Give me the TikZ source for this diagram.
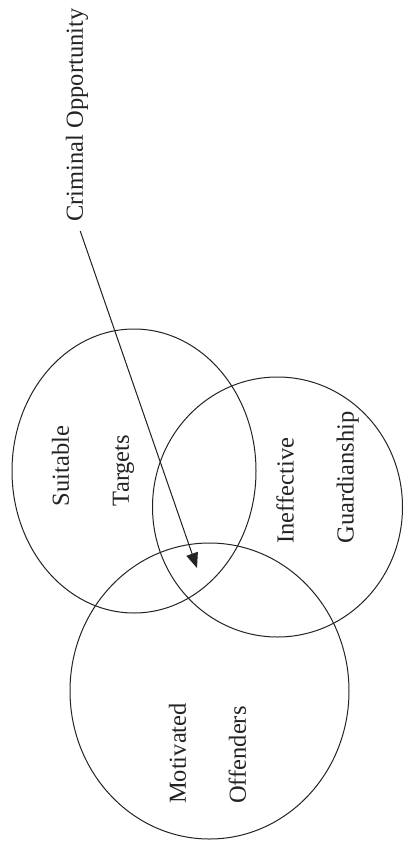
\documentclass[tikz,border=0pt]{standalone}
\usepackage{fontspec}
\setmainfont{Liberation Serif}
\usepackage{tikz}
\usetikzlibrary{arrows.meta}
\definecolor{figureline}{RGB}{35,35,35}

\begin{document}
\begin{tikzpicture}[
    x=1pt, y=-1pt,
    font=\fontsize{24.5}{60}\selectfont,
    ring/.style={draw=figureline, line width=1pt},
    label/.style={rotate=90, align=left, inner sep=0pt, text=figureline},
    arrow/.style={-{Triangle[length=15pt, width=12pt]}, draw=figureline, fill=figureline, line width=1pt}
  ]
    \useasboundingbox (0,0) rectangle (404,848);
    % the three circles
    \draw[ring] (134,471) ellipse [x radius=122pt, y radius=142pt];
    \draw[ring] (277.5,507) ellipse [x radius=125pt, y radius=130pt];
    \draw[ring] (209.5,691) ellipse [x radius=139.5pt, y radius=148pt];
    \node[label] (targets) at (93,466) {Suitable\\Targets};
    \node[label] (guardian) at (317.5,477.5) {Ineffective\\Guardianship};
    \node[label] (offenders) at (207.5,753.5) {Motivated\\Offenders};
    \node[label] (opportunity) at (77,115) {Criminal Opportunity};
    \coordinate (overlap) at (197,568);
    \draw[arrow, shorten <=10pt] (opportunity.west) -- (overlap);
  \end{tikzpicture}
\end{document}
